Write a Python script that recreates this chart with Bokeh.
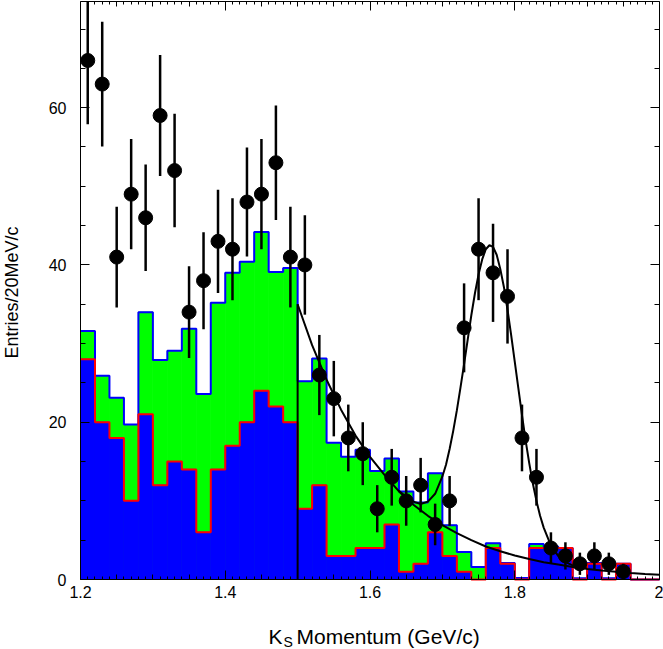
import math
from bokeh.plotting import figure
from bokeh.models import Range1d, Label, LinearAxis, FixedTicker
from bokeh.embed import file_html
from bokeh.resources import INLINE

# ---------------- data ----------------
bin_lo = [round(1.20 + 0.02 * i, 2) for i in range(40)]
bin_hi = [round(b + 0.02, 2) for b in bin_lo]

# total MC (green fill, blue outline)
total_mc = [31.6, 25.9, 23.1, 19.7, 34.0, 27.9, 29.1, 31.9, 23.6, 35.2,
            39.0, 40.4, 44.2, 39.1, 39.6, 25.2, 28.1, 17.4, 15.6, 16.5,
            13.8, 15.4, 11.2, 9.8, 13.5, 6.9, 3.5, 1.6, 4.6, 2.1,
            0.2, 4.5, 4.2, 4.0, 0.15, 2.1, 0.15, 2.0, 0.0, 0.0]
# component MC (blue fill, red outline)
comp_mc = [28, 20, 18, 10, 21, 12, 15, 14, 6, 14,
           17, 20, 24, 22, 20, 9, 12, 3, 3, 4,
           4, 7, 1, 2, 6, 3, 1, 0, 4, 2,
           0, 4, 4, 4, 0, 2, 0, 2, 0, 0]

# data points
data_x = [round(1.21 + 0.02 * i, 2) for i in range(38)]
data_n = [66, 63, 41, 49, 46, 59, 52, 34, 38, 43,
          42, 48, 49, 53, 41, 40, 26, 23, 18, 16,
          9, 13, 10, 12, 7, 10, 32, 42, 39, 36,
          18, 13, 4, 3, 2, 3, 2, 1]

# fitted background curve
bkg_x = [1.50, 1.52, 1.54, 1.56, 1.58, 1.60, 1.62, 1.64, 1.66, 1.68,
         1.70, 1.72, 1.74, 1.76, 1.78, 1.80, 1.82, 1.84, 1.86, 1.88,
         1.90, 1.92, 1.94, 1.96, 1.98, 2.00]
bkg_y = [35.0, 29.8, 25.4, 21.6, 18.3, 15.6, 13.3, 11.2, 9.5, 8.1,
         6.9, 5.9, 5.0, 4.2, 3.6, 3.05, 2.6, 2.2, 1.9, 1.6,
         1.35, 1.15, 1.0, 0.83, 0.7, 0.6]

# fitted signal + background curve
peak_x = [1.64, 1.65, 1.66, 1.67, 1.68, 1.69, 1.70, 1.705, 1.71, 1.715,
          1.72, 1.725, 1.73, 1.735, 1.74, 1.745, 1.75, 1.755, 1.76, 1.765,
          1.77, 1.775, 1.78, 1.785, 1.79, 1.795, 1.80, 1.805, 1.81, 1.815,
          1.82, 1.825, 1.83, 1.835, 1.84, 1.85, 1.86, 1.87, 1.88, 1.89, 1.90]
peak_y = [11.3, 10.5, 9.9, 9.6, 9.9, 10.9, 13.1, 14.6, 16.6, 18.9,
          21.5, 24.4, 27.4, 30.5, 33.6, 36.4, 38.8, 40.7, 42.0, 42.5,
          42.3, 41.3, 39.5, 37.2, 34.3, 31.1, 27.7, 24.3, 20.9, 17.7,
          14.8, 12.2, 10.0, 8.1, 6.6, 4.3, 3.0, 2.2, 1.8, 1.55, 1.4]

# axes
X0, X1 = 1.2, 2.0
Y0, Y1 = 0.0, 73.5
x_label_ticks = [1.2, 1.4, 1.6, 1.8, 2.0]
x_label_text = ["1.2", "1.4", "1.6", "1.8", "2"]
x_mid_ticks = [1.25, 1.3, 1.35, 1.45, 1.5, 1.55, 1.65, 1.7, 1.75,
               1.85, 1.9, 1.95]
x_small_ticks = [round(1.2 + 0.01 * i, 2) for i in range(81) if i % 5]
y_label_ticks = [0, 20, 40, 60]
y_small_ticks = [5, 10, 15, 25, 30, 35, 45, 50, 55, 65, 70]

FONT = "Liberation Sans"
GREEN, BLUE, RED = "#00ff00", "#0000ff", "#ff0000"

# ---------------- layout (pixels) ----------------
W, H = 663, 649
FL, FR, FT, FB = 80, 659, 1, 579          # plotting box in canvas pixels
ppx = (FR - FL) / (X1 - X0)
ppy = (FB - FT) / (Y1 - Y0)

p = figure(width=W, height=H,
           x_range=Range1d(X0 - FL / ppx, X1 + (W - FR) / ppx),
           y_range=Range1d(Y0 - (H - FB) / ppy, Y1 + FT / ppy),
           output_backend="svg", toolbar_location=None,
           min_border=0, x_axis_location=None, y_axis_location=None)
p.xgrid.grid_line_color = None
p.ygrid.grid_line_color = None
p.outline_line_color = None
p.background_fill_color = "white"
p.border_fill_color = "white"

# histograms
p.quad(left=bin_lo, right=bin_hi, bottom=0, top=total_mc,
       fill_color=GREEN, line_color=GREEN, line_width=0.8)
p.step(x=bin_lo + [X1], y=total_mc + [total_mc[-1]], mode="after",
       line_color=BLUE, line_width=2)
p.quad(left=bin_lo, right=bin_hi, bottom=0, top=comp_mc,
       fill_color=BLUE, line_color=BLUE, line_width=0.8)
p.step(x=bin_lo + [X1], y=comp_mc + [comp_mc[-1]], mode="after",
       line_color=RED, line_width=2)

# fit curves
p.segment(x0=[bkg_x[0]], y0=[0], x1=[bkg_x[0]], y1=[bkg_y[0]],
          line_color="black", line_width=2)
p.line(bkg_x, bkg_y, line_color="black", line_width=2)
p.line(peak_x, peak_y, line_color="black", line_width=2)

# data with sqrt(N) errors
err_lo = [n - math.sqrt(n) for n in data_n]
err_hi = [n + math.sqrt(n) for n in data_n]
p.segment(x0=data_x, y0=err_lo, x1=data_x, y1=[min(v, Y1) for v in err_hi],
          line_color="black", line_width=2.5)
p.scatter(data_x, data_n, marker="circle", size=14,
          fill_color="black", line_color="black")


# ---------------- axes (fixed at the box edges) ----------------
def make_axis(side, loc, bounds, ticks, minor, tick_in, minor_in,
              labels=None, standoff=0, line=True):
    ax = LinearAxis(fixed_location=loc, bounds=bounds,
                    ticker=FixedTicker(ticks=ticks, minor_ticks=minor),
                    major_tick_in=tick_in, major_tick_out=0,
                    minor_tick_in=minor_in, minor_tick_out=0,
                    major_tick_line_color="black",
                    minor_tick_line_color="black",
                    axis_line_color="black" if line else None)
    if labels is None:
        ax.major_label_overrides = {t: "" for t in ticks}
        ax.major_label_text_font_size = "0px"
        ax.major_label_standoff = 0
    else:
        ax.major_label_overrides = labels
        ax.major_label_text_font = FONT
        ax.major_label_text_font_size = "16px"
        ax.major_label_text_color = "black"
        ax.major_label_standoff = standoff
    p.add_layout(ax, side)
    return ax


xb = (X0, X1)
yb = (Y0, Y1)
x_lab = dict(zip(x_label_ticks, x_label_text))
# bottom: labelled long ticks + 0.01 small ticks, then 0.05 medium ticks
make_axis("below", Y0, xb, x_label_ticks, x_small_ticks + x_mid_ticks, 9, 3,
          labels=x_lab, standoff=6)
make_axis("below", Y0, xb, x_mid_ticks, [], 5, 0, line=False)
# top mirror
make_axis("above", Y1, xb, x_label_ticks, x_small_ticks + x_mid_ticks, 9, 3)
make_axis("above", Y1, xb, x_mid_ticks, [], 5, 0, line=False)
# left with labels, right mirror
make_axis("left", X0, yb, y_label_ticks, y_small_ticks, 9, 5,
          labels={t: str(t) for t in y_label_ticks}, standoff=14)
make_axis("right", X1, yb, y_label_ticks, y_small_ticks, 9, 5)

# ---------------- axis titles (screen px from canvas bottom-left) ----------
p.add_layout(Label(x=11, y=H - 292, x_units="screen", y_units="screen",
                   text="Entries/20MeV/c", angle=math.pi / 2,
                   text_align="center", text_baseline="middle",
                   text_font=FONT, text_font_size="18px",
                   text_color="black"))
p.add_layout(Label(x=268, y=H - 636, x_units="screen", y_units="screen",
                   text="K", text_align="left", text_baseline="middle",
                   text_font=FONT, text_font_size="21px",
                   text_color="black"))
p.add_layout(Label(x=283, y=H - 641, x_units="screen", y_units="screen",
                   text="S", text_align="left", text_baseline="middle",
                   text_font=FONT, text_font_size="14px",
                   text_color="black"))
p.add_layout(Label(x=296, y=H - 636, x_units="screen", y_units="screen",
                   text="Momentum (GeV/c)", text_align="left",
                   text_baseline="middle",
                   text_font=FONT, text_font_size="21px",
                   text_color="black"))

open("out.html", "w").write(file_html(p, INLINE))
